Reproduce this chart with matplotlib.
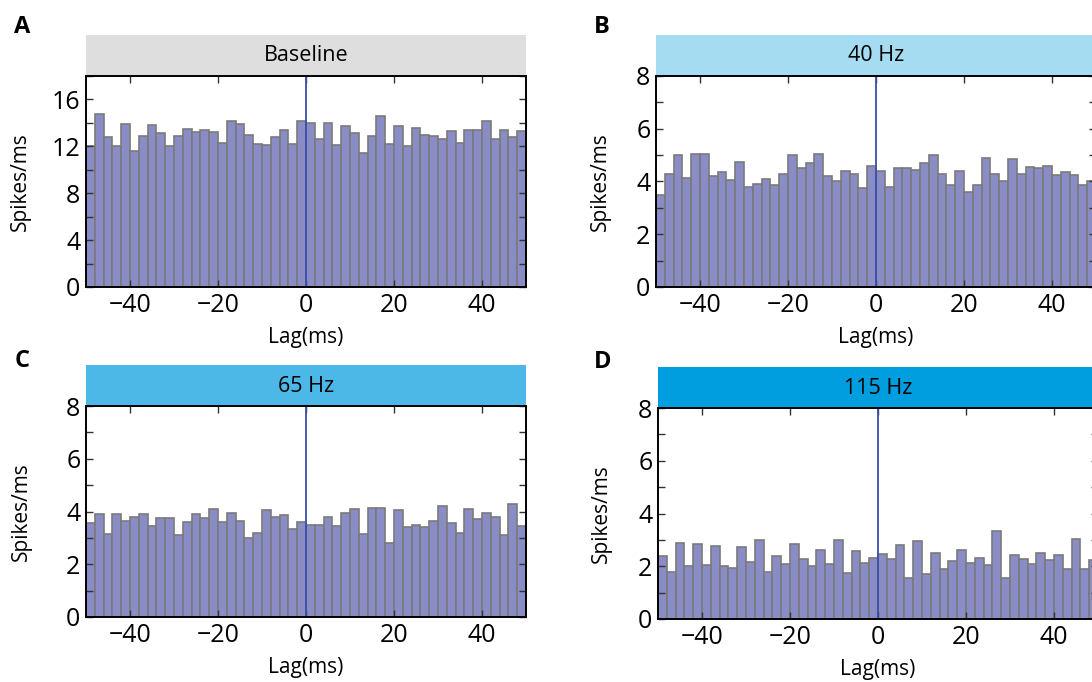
import numpy as np
import matplotlib
matplotlib.use("Agg")
import matplotlib.pyplot as plt
from matplotlib.patches import Rectangle
from matplotlib.ticker import MultipleLocator

plt.rcParams['font.family'] = ['Open Sans', 'DejaVu Sans']

# 2 ms bins from -50 to 50 ms
bin_edges = np.arange(-50, 51, 2)

baseline = [12.0, 14.8, 12.8, 12.0, 13.9, 11.6, 12.9, 13.8, 13.1, 12.0,
            12.9, 13.5, 13.2, 13.4, 13.2, 12.3, 14.2, 13.9, 13.0, 12.2,
            12.1, 12.8, 13.4, 12.2, 14.2, 14.0, 12.6, 14.0, 12.1, 13.7,
            13.1, 11.4, 12.9, 14.6, 12.2, 13.7, 12.0, 13.6, 13.0, 12.9,
            12.6, 13.3, 12.3, 13.4, 13.4, 14.2, 12.6, 13.4, 12.8, 13.3]
hz40 = [3.5, 4.3, 5.0, 4.15, 5.05, 5.05, 4.2, 4.35, 4.05, 4.75,
        3.8, 3.9, 4.1, 3.85, 4.3, 5.0, 4.5, 4.7, 5.05, 4.2,
        4.0, 4.4, 4.3, 3.75, 4.6, 4.4, 3.8, 4.5, 4.5, 4.45,
        4.7, 5.0, 4.3, 3.85, 4.4, 3.6, 3.85, 4.9, 4.3, 4.0,
        4.85, 4.3, 4.55, 4.5, 4.6, 4.25, 4.35, 4.25, 3.85, 4.0]
hz65 = [3.55, 3.9, 3.15, 3.9, 3.65, 3.8, 3.9, 3.45, 3.75, 3.75,
        3.1, 3.6, 3.9, 3.75, 4.1, 3.6, 3.95, 3.65, 3.0, 3.2,
        4.05, 3.8, 3.85, 3.35, 3.6, 3.5, 3.5, 3.8, 3.45, 3.95,
        4.1, 3.15, 4.15, 4.15, 2.8, 4.05, 3.4, 3.5, 3.4, 3.65,
        4.2, 3.55, 3.2, 4.1, 3.7, 3.95, 3.8, 3.1, 4.3, 3.45]
hz115 = [2.4, 1.78, 2.9, 2.0, 2.83, 2.05, 2.76, 2.0, 1.95, 2.73,
         2.15, 2.98, 1.8, 2.4, 2.08, 2.86, 2.27, 2.0, 2.6, 2.1,
         3.0, 1.74, 2.56, 2.13, 2.3, 2.47, 2.27, 2.8, 1.56, 2.95,
         1.7, 2.5, 1.9, 2.2, 2.6, 2.12, 2.33, 2.04, 3.34, 1.56,
         2.43, 2.27, 2.1, 2.5, 2.23, 2.44, 1.9, 3.05, 1.9, 2.25]

titles = ["Baseline", "40 Hz", "65 Hz", "115 Hz"]
letters = ["A", "B", "C", "D"]
strip_colors = ["#dedede", "#a6dcf2", "#4cb8e8", "#009ddf"]
ymax = [18, 8, 8, 8]
ylabel_step = [4, 2, 2, 2]
series = [baseline, hz40, hz65, hz115]

W, H = 1092, 682
# axes boxes in pixels: left, top, width, height
boxes = [(86, 76, 440, 211), (656, 76, 440, 211),
         (86, 406, 440, 211), (658, 408, 440, 211)]
# x pixel of the right edge of each "Spikes/ms" label
ylab_x = [31, 611, 32, 612]
letter_pos = [(22, 27), (602, 27), (22, 361), (603, 362)]

fig = plt.figure(figsize=(W / 100, H / 100), dpi=100)

for i in range(4):
    l, t, w, h = boxes[i]
    ax = fig.add_axes([l / W, (H - t - h) / H, w / W, h / H])
    ax.bar(bin_edges[:-1], series[i], width=2, align="edge",
           color="#8a8cc6", edgecolor="#7a7a7a", linewidth=1.2)
    ax.axvline(0, color="#3a4fa8", linewidth=1.3)
    ax.set_xlim(-50, 50)
    ax.set_ylim(0, ymax[i])
    ax.xaxis.set_major_locator(MultipleLocator(20))
    ax.yaxis.set_major_locator(MultipleLocator(ylabel_step[i]))
    ax.yaxis.set_minor_locator(MultipleLocator(ylabel_step[i] / 2))
    ax.tick_params(which="both", direction="in", top=True, right=True,
                   length=5, width=1, color="#333333")
    ax.tick_params(labelsize=18, pad=4)
    for s in ax.spines.values():
        s.set_linewidth(1.4)
    ax.set_xlabel("Lag(ms)", fontsize=15, labelpad=7)
    ax.set_ylabel("Spikes/ms", fontsize=15)
    ax.yaxis.set_label_coords((ylab_x[i] - l) / w, 0.5)

    # coloured title strip above the axes
    sh = 40 / h
    ax.add_patch(Rectangle((0, 1.003), 1, sh, transform=ax.transAxes,
                           facecolor=strip_colors[i], edgecolor="none",
                           clip_on=False))
    ax.text(0.5, 1 + sh / 2, titles[i], transform=ax.transAxes,
            ha="center", va="center", fontsize=15.5)

    lx, ly = letter_pos[i]
    fig.text(lx / W, 1 - ly / H, letters[i], fontsize=17, fontweight="bold",
             ha="center", va="center")

fig.savefig("out.png", dpi=100)
